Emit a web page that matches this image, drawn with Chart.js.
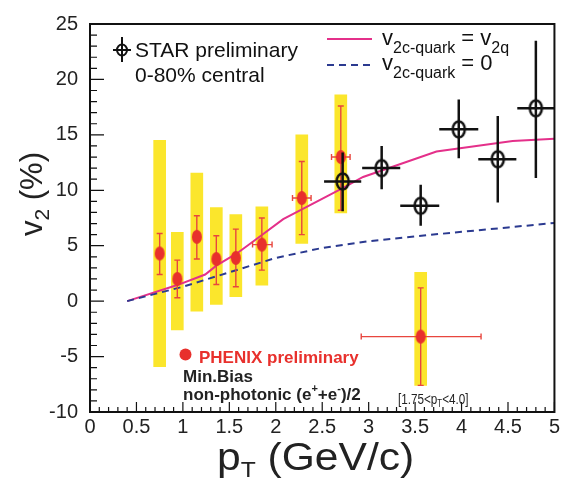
<!DOCTYPE html>
<html>
<head>
<meta charset="utf-8">
<script src="https://cdn.jsdelivr.net/npm/chart.js@4.4.0/dist/chart.umd.min.js"></script>
<style>
  html, body { margin: 0; padding: 0; background: #fff; }
  #wrap { width: 563px; height: 485px; }
</style>
</head>
<body>
<div id="wrap"><canvas id="v2Chart" width="563" height="485"></canvas></div>
<script>
// PHENIX non-photonic electrons (min. bias)
const phenixPt     = [0.75, 0.94, 1.15, 1.36, 1.57, 1.85, 2.28, 2.70, 3.56];
const phenixV2     = [4.3, 2.0, 5.8, 3.8, 3.9, 5.1, 9.3, 13.0, -3.2];
const phenixStatLo = [2.4, 0.3, 3.8, 1.5, 1.3, 2.8, 6.0, 8.2, -7.6];
const phenixStatHi = [6.1, 3.7, 7.7, 5.9, 6.5, 7.5, 12.6, 17.6, 1.2];
const phenixSysLo  = [-5.9, -2.6, -0.9, -0.3, 0.4, 1.45, 5.2, 7.95, -7.6];
const phenixSysHi  = [14.5, 6.2, 11.55, 8.45, 7.8, 8.5, 15.0, 18.6, 2.6];
const phenixPtLo   = [null, null, null, null, null, 1.75, 2.18, 2.60, 2.92];
const phenixPtHi   = [null, null, null, null, null, 1.96, 2.38, 2.80, 4.21];

// STAR preliminary 0-80%
const starPt   = [2.72, 3.14, 3.56, 3.97, 4.39, 4.80];
const starV2   = [10.8, 12.0, 8.6, 15.5, 12.8, 17.4];
const starErrLo = [8.1, 10.1, 6.8, 12.9, 8.9, 11.1];
const starErrHi = [13.4, 14.0, 10.5, 18.2, 16.7, 23.5];
const starPtLo = [2.52, 2.93, 3.34, 3.76, 4.18, 4.60];
const starPtHi = [2.92, 3.34, 3.76, 4.18, 4.59, 5.00];

// model curves
const flowPt = [0.4, 0.94, 1.24, 1.36, 1.58, 1.76, 2.08, 2.40, 2.72, 2.94, 3.73, 4.55, 5.0];
const flowV2 = [0, 1.45, 2.4, 3.2, 4.3, 5.4, 7.4, 8.8, 10.2, 11.2, 13.5, 14.45, 14.65];
const noFlowPt = [0.4, 1.0, 1.5, 2.0, 2.5, 3.0, 3.5, 4.0, 4.5, 5.0];
const noFlowV2 = [0, 1.3, 2.6, 3.9, 4.8, 5.4, 5.85, 6.25, 6.65, 7.05];

const xTicks = [0, 0.5, 1, 1.5, 2, 2.5, 3, 3.5, 4, 4.5, 5];
const yTicks = [-10, -5, 0, 5, 10, 15, 20, 25];

const FONT = '"Liberation Sans", Arial, Helvetica, sans-serif';
const RED = '#e8302c';
const PINK = '#e4308a';
const BLUE = '#2b3a90';
const YELLOW = '#fbe62c';

function ellipseImg(rx, ry, fill, stroke, lw) {
  let c = document.createElement('canvas');
  c.width = Math.ceil(2 * rx + lw + 2);
  c.height = Math.ceil(2 * ry + lw + 2);
  let g = c.getContext('2d');
  g.beginPath();
  g.ellipse(c.width / 2, c.height / 2, rx, ry, 0, 0, Math.PI * 2);
  if (fill) { g.fillStyle = fill; g.fill(); }
  if (stroke) { g.strokeStyle = stroke; g.lineWidth = lw; g.stroke(); }
  return c;
}
const redDot = ellipseImg(5, 7, RED, null, 0);
const starRing = ellipseImg(6, 8, null, '#111', 2.5);

function runText(ctx, x, y, parts) {
  parts.forEach(p => {
    ctx.font = (p.bold ? 'bold ' : '') + p.size + 'px ' + (p.family || FONT);
    ctx.fillText(p.t, x, y + (p.dy || 0));
    x += ctx.measureText(p.t).width;
  });
  return x;
}

const errorBars = {
  id: 'errorBars',
  beforeDatasetDraw(chart, args) {
    let ctx = chart.ctx, xs = chart.scales.x, ys = chart.scales.y, a = chart.chartArea;
    ctx.save();
    ctx.beginPath();
    ctx.rect(a.left, a.top, a.right - a.left, a.bottom - a.top);
    ctx.clip();
    if (args.index === 3) {
      ctx.strokeStyle = '#e8463e';
      ctx.lineWidth = 1.4;
      phenixPt.forEach((x, i) => {
        let px = xs.getPixelForValue(x), py = ys.getPixelForValue(phenixV2[i]);
        let lo = ys.getPixelForValue(phenixStatLo[i]), hi = ys.getPixelForValue(phenixStatHi[i]);
        ctx.beginPath();
        ctx.moveTo(px, lo); ctx.lineTo(px, hi);
        ctx.moveTo(px - 3, lo); ctx.lineTo(px + 3, lo);
        ctx.moveTo(px - 3, hi); ctx.lineTo(px + 3, hi);
        if (phenixPtLo[i] != null) {
          let l = xs.getPixelForValue(phenixPtLo[i]), r = xs.getPixelForValue(phenixPtHi[i]);
          ctx.moveTo(l, py); ctx.lineTo(r, py);
          ctx.moveTo(l, py - 3); ctx.lineTo(l, py + 3);
          ctx.moveTo(r, py - 3); ctx.lineTo(r, py + 3);
        }
        ctx.stroke();
      });
    }
    if (args.index === 4) {
      ctx.strokeStyle = '#111';
      ctx.lineWidth = 2.5;
      starPt.forEach((x, i) => {
        let px = xs.getPixelForValue(x), py = ys.getPixelForValue(starV2[i]);
        ctx.beginPath();
        ctx.moveTo(px, ys.getPixelForValue(starErrLo[i]));
        ctx.lineTo(px, ys.getPixelForValue(starErrHi[i]));
        ctx.moveTo(xs.getPixelForValue(starPtLo[i]), py);
        ctx.lineTo(xs.getPixelForValue(starPtHi[i]), py);
        ctx.stroke();
      });
    }
    ctx.restore();
  }
};

const frameAndText = {
  id: 'frameAndText',
  afterDraw(chart) {
    let ctx = chart.ctx, xs = chart.scales.x, ys = chart.scales.y, a = chart.chartArea;
    ctx.save();
    // inner ticks
    ctx.strokeStyle = '#111';
    ctx.lineWidth = 1.2;
    ctx.beginPath();
    for (let v = -10; v <= 25; v++) {
      let py = ys.getPixelForValue(v);
      ctx.moveTo(a.left, py); ctx.lineTo(a.left + (v % 5 === 0 ? 14 : 7), py);
    }
    for (let k = 0; k <= 50; k++) {
      let px = xs.getPixelForValue(k / 10);
      ctx.moveTo(px, a.bottom); ctx.lineTo(px, a.bottom - (k % 5 === 0 ? 10 : 5));
    }
    ctx.stroke();
    ctx.lineWidth = 2;
    ctx.strokeRect(a.left, a.top, a.right - a.left, a.bottom - a.top);

    // axis titles
    ctx.fillStyle = '#222';
    ctx.textBaseline = 'alphabetic';
    ctx.save();
    ctx.translate(217, 470);
    ctx.scale(1.12, 1);
    runText(ctx, 0, 0, [{t: 'p', size: 38}, {t: 'T', size: 22, dy: 7}, {t: ' (GeV/c)', size: 38}]);
    ctx.restore();
    ctx.save();
    ctx.translate(42, 236);
    ctx.rotate(-Math.PI / 2);
    runText(ctx, 0, 0, [{t: 'v', size: 31}, {t: '2', size: 21, dy: 7}, {t: ' (%)', size: 31}]);
    ctx.restore();

    // STAR legend
    ctx.strokeStyle = '#111';
    ctx.lineWidth = 2;
    ctx.beginPath();
    ctx.moveTo(122, 37); ctx.lineTo(122, 62);
    ctx.moveTo(113, 50); ctx.lineTo(131, 50);
    ctx.stroke();
    ctx.beginPath();
    ctx.ellipse(122, 50, 5, 5.5, 0, 0, Math.PI * 2);
    ctx.stroke();
    ctx.fillStyle = '#111';
    runText(ctx, 135, 57, [{t: 'STAR preliminary', size: 21}]);
    runText(ctx, 135, 82, [{t: '0-80% central', size: 21}]);

    // model legend
    ctx.lineWidth = 2;
    ctx.strokeStyle = PINK;
    ctx.beginPath(); ctx.moveTo(327, 39); ctx.lineTo(372, 39); ctx.stroke();
    ctx.strokeStyle = BLUE;
    ctx.setLineDash([7, 5]);
    ctx.beginPath(); ctx.moveTo(327, 65); ctx.lineTo(372, 65); ctx.stroke();
    ctx.setLineDash([]);
    runText(ctx, 382, 45, [{t: 'v', size: 22}, {t: '2c-quark', size: 16, dy: 8}, {t: ' = v', size: 22}, {t: '2q', size: 16, dy: 8}]);
    runText(ctx, 382, 70, [{t: 'v', size: 22}, {t: '2c-quark', size: 16, dy: 8}, {t: ' = 0', size: 22}]);

    // PHENIX legend
    ctx.fillStyle = RED;
    ctx.beginPath(); ctx.arc(185.5, 354.5, 6, 0, Math.PI * 2); ctx.fill();
    runText(ctx, 199, 363, [{t: 'PHENIX preliminary', size: 17, bold: true}]);
    ctx.fillStyle = '#222';
    runText(ctx, 183, 381.5, [{t: 'Min.Bias', size: 17, bold: true}]);
    runText(ctx, 183, 400, [
      {t: 'non-photonic (e', size: 17, bold: true},
      {t: '+', size: 11, bold: true, dy: -8},
      {t: '+e', size: 17, bold: true},
      {t: '-', size: 11, bold: true, dy: -8},
      {t: ')/2', size: 17, bold: true}
    ]);
    // condensed range label
    ctx.save();
    ctx.translate(398, 404);
    ctx.scale(0.78, 1);
    ctx.fillStyle = '#222';
    runText(ctx, 0, 0, [
      {t: '[1.75<p', size: 15},
      {t: 'T', size: 10, dy: 3},
      {t: '<4.0]', size: 15}
    ]);
    ctx.restore();
    ctx.restore();
  }
};

const ctx = document.getElementById('v2Chart').getContext('2d');
const chart = new Chart(ctx, {
  type: 'scatter',
  data: {
    datasets: [
      {
        type: 'bar',
        data: phenixPt.map((x, i) => ({x: x, y: [phenixSysLo[i], phenixSysHi[i]]})),
        backgroundColor: YELLOW,
        borderWidth: 0,
        barThickness: 12,
        order: 5
      },
      {
        type: 'line',
        data: flowPt.map((x, i) => ({x: x, y: flowV2[i]})),
        borderColor: PINK,
        borderWidth: 2,
        pointRadius: 0,
        tension: 0,
        order: 4
      },
      {
        type: 'line',
        data: noFlowPt.map((x, i) => ({x: x, y: noFlowV2[i]})),
        borderColor: BLUE,
        borderWidth: 2,
        borderDash: [7, 5],
        pointRadius: 0,
        tension: 0,
        order: 3
      },
      {
        type: 'scatter',
        data: phenixPt.map((x, i) => ({x: x, y: phenixV2[i]})),
        pointStyle: redDot,
        pointRadius: 6,
        order: 2
      },
      {
        type: 'scatter',
        data: starPt.map((x, i) => ({x: x, y: starV2[i]})),
        pointStyle: starRing,
        pointRadius: 6,
        order: 1
      }
    ]
  },
  options: {
    responsive: false,
    animation: false,
    events: [],
    layout: { padding: { left: 0, top: 17, right: 7, bottom: 0 } },
    plugins: { legend: { display: false }, tooltip: { enabled: false } },
    scales: {
      x: {
        type: 'linear',
        min: 0, max: 5,
        offset: false,
        grid: { display: false, drawTicks: false },
        border: { display: false },
        afterFit: s => { s.height = 73; },
        afterBuildTicks: s => { s.ticks = xTicks.map(v => ({value: v})); },
        ticks: {
          padding: 3,
          color: '#222',
          font: { family: FONT, size: 20 },
          callback: v => String(v),
          maxRotation: 0,
          autoSkip: false
        }
      },
      y: {
        type: 'linear',
        min: -10, max: 25,
        grid: { display: false, drawTicks: false },
        border: { display: false },
        afterFit: s => { s.width = 90; },
        afterBuildTicks: s => { s.ticks = yTicks.map(v => ({value: v})); },
        ticks: {
          padding: 12,
          color: '#222',
          font: { family: FONT, size: 20 },
          callback: v => String(v)
        }
      }
    }
  },
  plugins: [errorBars, frameAndText]
});
</script>
</body>
</html>
